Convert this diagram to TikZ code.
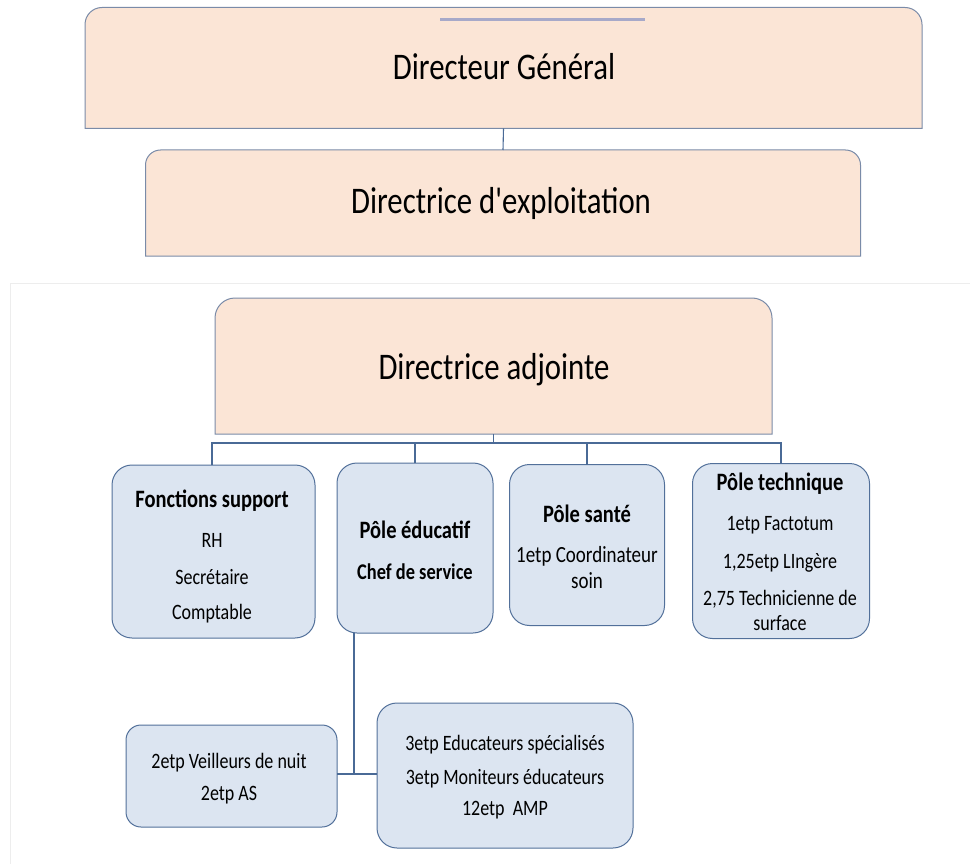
\documentclass[tikz,border=0pt]{standalone}
\usepackage{fontspec}
\setmainfont{Carlito}[Ligatures=TeXOff]
\usetikzlibrary{backgrounds}
\definecolor{peach}{HTML}{FBE5D6}
\definecolor{peachedge}{HTML}{7A8BA8}
\definecolor{bluefill}{HTML}{DCE5F1}
\definecolor{blueedge}{HTML}{52709A}
\definecolor{linkc}{HTML}{4A6A96}
\definecolor{topbar}{HTML}{A7A9C9}
\definecolor{framec}{HTML}{EDEDED}
\newcommand\tl[1]{\scalebox{1}[1.22]{#1}}
\begin{document}
\begin{tikzpicture}[x=1pt,y=-1pt,
  holder/.style={inner sep=0pt, outer sep=0pt},
  peachshape/.style={draw=peachedge, fill=peach, line width=1pt},
  bluebox/.style={draw=blueedge, fill=bluefill, line width=1pt, inner sep=0pt, outer sep=0pt, rounded corners=#1},
  bluebox/.default=20pt,
  link/.style={draw=linkc, line width=1.1pt},
  txt/.style={anchor=base, inner sep=0pt},
  big/.style={txt, font=\fontsize{30.8}{36}\selectfont},
  head/.style={txt, font=\bfseries\fontsize{20.5}{24}\selectfont},
  subhead/.style={txt, font=\bfseries\fontsize{18.4}{22}\selectfont},
  body/.style={txt, font=\fontsize{18}{22}\selectfont}
]
\useasboundingbox (0,0) rectangle (970,864);
% faint page frame
\draw[framec, line width=1pt] (10,864) -- (10,283) -- (970,283);

% peach boxes (placeholders)
\node[holder, minimum width=837, minimum height=121] (dg) at (503.5,68) {};
\node[holder, minimum width=715, minimum height=106] (de) at (503,203) {};
\node[holder, minimum width=557, minimum height=136] (da) at (493.5,366) {};
\begin{scope}[on background layer]
\foreach \b/\r in {dg/17pt,de/15pt,da/20pt}{
  \path[peachshape] (\b.south west) [rounded corners=\r] -- (\b.north west) -- (\b.north east) [sharp corners] -- (\b.south east) -- cycle;
}
\end{scope}
\draw[topbar, line width=3pt] (440,20) -- (645,20);
\node[big] (dgt) at (504,80) {\tl{Directeur Général}};
\node[big] (det) at (501,214) {\tl{Directrice d'exploitation}};
\node[big] (dat) at (494,379) {\tl{Directrice adjointe}};

% blue boxes
\node[bluebox, minimum width=203, minimum height=173] (fs) at (213.5,551.5) {};
\node[bluebox, minimum width=156, minimum height=170] (pe) at (415,548) {};
\node[bluebox, minimum width=155, minimum height=161] (ps) at (587,545) {};
\node[bluebox, minimum width=177, minimum height=175] (pt) at (781,551) {};
\node[bluebox=15pt, minimum width=211, minimum height=102] (vn) at (231.5,776) {};
\node[bluebox, minimum width=256, minimum height=145] (ed) at (505,775.5) {};

\node[head] (fs1) at (212,507) {\tl{Fonctions support}};
\node[body] (fs2) at (212,547) {\tl{RH}};
\node[body] (fs3) at (212,584) {\tl{Secrétaire}};
\node[body] (fs4) at (212,619) {\tl{Comptable}};

\node[head] (pe1) at (415,538) {\tl{Pôle éducatif}};
\node[subhead] (pe2) at (415,579) {\tl{Chef de service}};

\node[head] (ps1) at (587,522) {\tl{Pôle santé}};
\node[body, font=\fontsize{19}{22}\selectfont] (ps2) at (587,562) {\tl{1etp Coordinateur}};
\node[body, font=\fontsize{19}{22}\selectfont] (ps3) at (587,588) {\tl{soin}};

\node[head] (pt1) at (780,490) {\tl{Pôle technique}};
\node[body] (pt2) at (780,530) {\tl{1etp Factotum}};
\node[body] (pt3) at (780,568) {\tl{1,25etp LIngère}};
\node[body] (pt4) at (780,605) {\tl{2,75 Technicienne de}};
\node[body] (pt5) at (780,630) {\tl{surface}};

\node[body] (vn1) at (229,768) {\tl{2etp Veilleurs de nuit}};
\node[body] (vn2) at (229,800) {\tl{2etp AS}};

\node[body] (ed1) at (505,750) {\tl{3etp Educateurs spécialisés}};
\node[body] (ed2) at (505,784) {\tl{3etp Moniteurs éducateurs}};
\node[body] (ed3) at (505,815) {\tl{12etp\ \ AMP}};

% connectors
\draw[link] (dg.south) -- (de.north);
\coordinate (busc) at (493.5,443);
\draw[link] (da.south) -- (busc);
\draw[link] (fs.north -| 212,0) -- (212,443) -- (pt.north |- busc) -- (pt.north);
\draw[link] (pe.north) -- (pe.north |- busc);
\draw[link] (ps.north) -- (ps.north |- busc);
\coordinate (jn) at (354,774);
\draw[link] (pe.south -| jn) -- (jn);
\draw[link] (vn.east |- jn) -- (ed.west |- jn);
\end{tikzpicture}
\end{document}
